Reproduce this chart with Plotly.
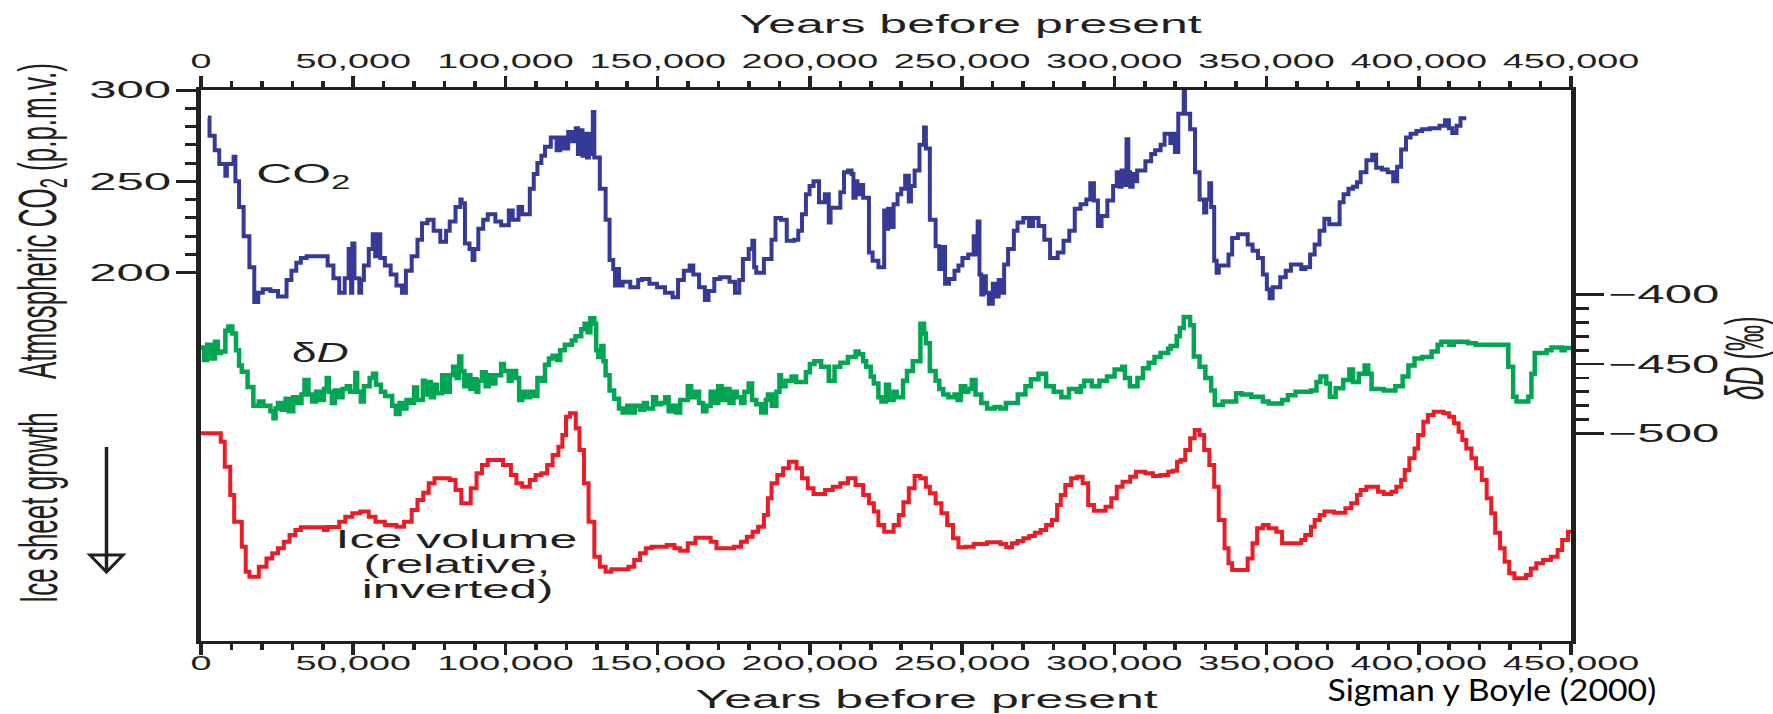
import json
import plotly.graph_objects as go

# ---------------- data (ages in thousands of years before present) ----------------
co2_age_kyr = [
    2.3, 2.8, 4.5, 6.0, 8.0, 8.5, 10.7, 11.3, 12.5, 14.0,
    15.9, 17.5, 18.8, 20.3, 22.8, 25.3, 28.1, 29.7, 31.3, 32.8,
    34.7, 41.6, 43.5, 45.4, 47.2, 48.5, 49.3, 49.7, 50.4, 52.0,
    52.6, 53.5, 55.1, 56.4, 57.2, 57.8, 58.9, 60.4, 62.3, 64.2,
    66.0, 67.3, 69.2, 71.1, 72.6, 74.4, 76.4, 78.6, 80.5, 81.7,
    83.6, 85.2, 85.6, 86.7, 88.2, 89.2, 89.8, 91.1, 92.7, 94.2,
    96.7, 98.6, 101.1, 102.4, 104.3, 105.5, 108.0, 109.3, 110.5, 111.8,
    113.0, 114.9, 116.8, 118.0, 119.3, 120.6, 121.8, 123.1, 123.8, 124.5,
    125.3, 126.0, 126.8, 127.4, 128.1, 128.7, 129.2, 131.0, 132.9, 134.2,
    135.4, 136.0, 136.6, 137.3, 138.5, 141.0, 143.6, 144.8, 147.3, 149.8,
    152.4, 154.9, 156.7, 158.6, 160.5, 161.7, 163.6, 165.5, 166.7, 168.6,
    170.5, 173.6, 175.4, 176.8, 178.0, 179.9, 181.1, 181.7, 182.4, 184.9,
    187.4, 188.7, 190.5, 192.4, 194.9, 196.2, 197.4, 198.7, 199.9, 201.2,
    203.0, 204.9, 206.2, 206.8, 210.0, 211.2, 212.5, 213.7, 214.3, 215.0,
    215.6, 216.5, 217.5, 219.4, 220.6, 222.5, 224.4, 224.9, 225.7, 226.3,
    227.5, 228.8, 230.0, 231.3, 232.5, 233.2, 234.4, 236.0, 237.5, 238.1,
    239.4, 241.3, 242.5, 243.3, 244.4, 245.7, 247.5, 248.8, 250.1, 252.0,
    253.8, 254.4, 255.1, 255.7, 256.3, 257.0, 257.8, 258.8, 260.1, 261.0,
    262.0, 263.0, 263.8, 265.1, 267.0, 268.2, 270.1, 272.0, 273.3, 275.1,
    277.0, 278.9, 281.4, 283.3, 285.2, 287.0, 288.9, 290.8, 292.1, 293.3,
    294.6, 295.8, 297.7, 299.6, 300.8, 301.6, 302.4, 303.2, 304.0, 304.6,
    305.2, 306.0, 306.5, 307.5, 310.2, 312.1, 313.4, 315.2, 316.5, 318.4,
    319.2, 319.9, 321.0, 322.8, 323.2, 324.9, 326.5, 328.0, 329.5, 330.2,
    331.2, 331.8, 332.8, 333.6, 334.3, 337.5, 338.7, 340.6, 343.8, 345.4,
    347.2, 348.8, 350.1, 351.0, 352.0, 354.5, 356.3, 358.0, 361.4, 362.7,
    364.3, 365.8, 367.4, 369.0, 370.6, 374.0, 375.3, 376.9, 378.4, 379.7,
    380.9, 382.8, 384.7, 386.0, 387.9, 389.8, 391.6, 392.9, 394.2, 395.8,
    397.3, 399.2, 401.1, 403.6, 406.8, 408.6, 409.9, 411.0, 412.4, 413.7,
    415.6,
]
co2_ppm = [
    285, 275, 267, 259.5, 253, 259.5, 263.5, 250, 236, 220,
    203, 184, 189, 191, 190, 187, 196, 201, 205.5, 208,
    209, 204, 197, 189, 197, 213, 189, 216, 197, 189,
    196, 204, 213, 221, 209, 221, 208, 204, 199, 193,
    189, 201, 209, 218, 227, 229, 223, 217, 223, 228,
    236, 240, 238, 216, 213, 207, 213, 224, 229, 232,
    228, 226, 234, 229, 236, 232, 246, 254, 260, 264,
    269, 274, 267, 274, 268, 277, 272, 279, 265, 278,
    264, 276, 263, 276, 265, 288, 263, 246, 229, 207,
    202, 193, 202, 193, 195, 192, 196, 196.5, 194, 192,
    189, 186.5, 196, 201, 204, 199, 192, 185, 190, 196.5,
    197.5, 195, 189, 196, 207.5, 213, 217.5, 203, 200, 207.5,
    218, 230, 229, 217.5, 218, 223, 232, 243, 247.5, 250,
    238.5, 243, 227.5, 235.5, 244, 255, 256, 254, 241, 250,
    243, 248, 241, 211, 206.5, 203, 234, 224, 235, 225,
    237.5, 243, 246, 253, 239, 247.5, 256, 270, 279.5, 268,
    229, 214.5, 202, 214, 194, 196.5, 201, 204, 208, 210,
    220, 210, 228, 199, 188, 198, 189, 183, 194, 187,
    196, 189, 204.5, 213, 223, 227.5, 230, 225.5, 230, 225.5,
    218, 208, 211, 217.5, 223, 235, 237.5, 240, 249, 239.5,
    225.5, 231, 239.5, 247.5, 255, 247, 256, 248, 273, 255,
    247, 254, 250, 256, 261, 265, 267, 270, 276, 271,
    276, 266, 287, 300, 287, 278.5, 255, 240, 233, 240,
    249, 236, 206.5, 200, 204, 210, 219, 221, 215.5, 212,
    208, 199, 191, 186, 192, 197.5, 201, 204.5, 202, 203,
    210, 215.5, 223, 229.5, 226.5, 238.5, 243, 246, 247, 249.5,
    255, 261.5, 264.5, 257.5, 256.5, 255, 250, 258, 267.5, 274,
    276, 277.5, 278.5, 279, 280.5, 283.5, 279, 276.5, 280.5, 284.5,
    284.5,
]

dd_age_kyr = [
    0.0, 1.0, 2.0, 3.5, 4.6, 5.5, 6.5, 8.0, 9.0, 10.3,
    11.5, 12.5, 13.4, 15.3, 17.2, 19.0, 20.5, 22.8, 23.8, 24.5,
    25.3, 26.5, 27.8, 28.8, 30.3, 31.5, 33.0, 34.0, 35.3, 36.5,
    37.8, 39.0, 40.4, 41.3, 42.0, 43.0, 44.0, 45.4, 46.5, 47.9,
    49.0, 50.7, 51.3, 52.5, 53.5, 55.4, 56.5, 57.5, 59.1, 60.5,
    62.8, 64.0, 65.2, 66.0, 67.5, 69.0, 70.0, 71.0, 72.9, 73.5,
    74.5, 75.5, 76.5, 77.5, 79.2, 80.2, 81.7, 82.8, 84.0, 84.8,
    85.5, 86.5, 87.5, 88.5, 89.5, 90.5, 91.1, 92.3, 93.5, 94.5,
    95.5, 96.7, 98.6, 99.5, 101.1, 102.0, 103.5, 104.5, 105.5, 106.5,
    108.0, 109.5, 110.5, 111.8, 113.0, 114.3, 115.5, 117.0, 118.0, 119.5,
    121.8, 123.0, 124.9, 126.0, 127.0, 127.9, 129.2, 129.8, 130.5, 131.5,
    132.2, 132.9, 134.2, 135.7, 137.3, 138.5, 140.0, 141.0, 142.5, 144.2,
    145.5, 146.5, 148.5, 149.5, 151.1, 152.5, 153.6, 155.0, 156.0, 157.4,
    159.9, 161.0, 162.4, 163.6, 164.9, 166.0, 167.4, 168.5, 169.9, 171.0,
    172.4, 173.6, 174.9, 176.0, 177.4, 178.5, 179.9, 181.0, 182.4, 184.0,
    185.5, 186.2, 187.5, 189.0, 190.0, 190.5, 192.0, 194.0, 195.5, 198.7,
    200.0, 201.5, 203.7, 206.2, 208.1, 210.0, 212.5, 215.0, 216.0, 217.5,
    218.5, 220.0, 221.0, 222.5, 223.5, 225.0, 226.0, 227.5, 228.5, 230.6,
    231.9, 233.8, 236.3, 237.5, 238.1, 239.4, 241.3, 242.5, 243.8, 245.5,
    247.5, 248.5, 249.6, 251.0, 252.0, 253.2, 254.4, 256.3, 258.2, 260.7,
    262.5, 264.4, 268.3, 270.8, 272.6, 275.1, 277.6, 280.1, 282.6, 285.1,
    287.6, 289.0, 290.1, 292.6, 295.1, 297.6, 300.1, 302.6, 303.5, 305.1,
    307.6, 309.4, 311.3, 313.2, 315.2, 317.7, 318.5, 320.5, 321.5, 322.8,
    324.9, 326.1, 328.0, 329.9, 331.8, 333.0, 335.6, 340.0, 341.9, 345.0,
    348.8, 350.7, 355.1, 357.0, 359.5, 364.6, 366.4, 367.7, 369.6, 370.8,
    372.7, 375.2, 377.2, 378.4, 380.3, 382.2, 383.4, 384.5, 388.5, 392.3,
    394.7, 396.6, 398.6, 401.1, 404.2, 406.2, 407.4, 410.0, 411.5, 416.2,
    418.7, 429.4, 431.0, 432.1, 436.0, 437.0, 438.1, 442.0, 443.6, 446.9,
    448.0, 450.0,
]
dd_permil = [
    -438, -447, -436, -446, -434, -442, -441, -426, -423, -428,
    -440, -451, -455.5, -466.5, -480, -477, -480, -484, -489, -482,
    -478, -483, -475, -484, -474, -478, -472, -461.5, -472, -477,
    -470, -476, -468, -460, -470, -478, -469, -474, -468, -466,
    -470, -456.5, -470, -477, -466, -460, -457, -465, -470, -473,
    -480, -486, -478, -482, -476, -478, -467, -476, -462, -472,
    -463, -474, -465, -471, -458, -470, -458, -452, -460, -444.5,
    -455, -466, -458, -468, -461, -470, -462, -456, -466, -458,
    -464, -458, -450, -455, -462, -455, -460, -476, -470, -474,
    -470, -473, -460, -462, -450.5, -446, -444, -447, -440, -436,
    -433, -430, -425, -421, -427, -417, -421, -440, -445, -437,
    -448, -458, -469, -475, -482, -485, -480, -485, -480, -483,
    -478, -482, -474, -479, -478, -474, -484, -480, -485, -476,
    -466, -474, -470, -478, -484, -480, -470, -478, -466, -476,
    -468, -478, -470, -474, -478, -470, -464, -476, -479, -485,
    -476, -472, -480, -470, -458, -466, -462, -459, -463, -456,
    -450, -448, -452, -462, -452, -449, -445, -441, -443, -448,
    -452, -459, -464, -474, -477, -465, -476, -470, -474, -462,
    -455, -448, -421, -428, -435, -455, -462, -468, -472, -474,
    -472, -476, -466, -470, -468, -461.5, -472, -478, -482, -481,
    -482, -478, -472, -466, -461, -457, -466, -470, -474, -468,
    -470, -466, -462, -466, -462, -459, -454, -452, -460, -466,
    -460, -453, -449, -445, -442, -439, -437, -430, -424, -416,
    -422, -444.5, -452, -460, -469, -479.5, -477, -471, -472, -473.5,
    -477, -478.5, -476, -472.5, -470, -469, -463, -459, -464, -473.5,
    -467.5, -461.5, -454, -463, -457, -451, -457, -468, -469, -466,
    -459, -451, -446, -445, -441, -436, -434, -436, -434, -435,
    -436, -452, -473.5, -477, -473.5, -457, -442, -440, -438, -440,
    -438.5, -438.5,
]

# relative ice volume (0 = least ice, larger = more ice); drawn inverted
ice_age_kyr = [
    0.0, 6.5, 7.8, 9.6, 10.9, 13.4, 14.7, 15.9, 19.0, 21.5,
    23.4, 25.3, 27.2, 29.1, 31.0, 32.8, 40.4, 41.6, 45.4, 47.4,
    49.7, 52.3, 55.1, 57.3, 60.4, 64.2, 66.7, 69.2, 71.1, 73.0,
    74.8, 76.7, 81.7, 83.6, 85.5, 88.6, 90.5, 92.3, 94.2, 99.2,
    101.8, 103.6, 105.5, 108.0, 109.9, 111.8, 113.7, 115.5, 117.4, 118.7,
    119.9, 121.2, 123.1, 124.3, 125.8, 127.3, 129.2, 131.0, 132.9, 134.8,
    140.4, 142.3, 144.2, 146.1, 148.0, 153.0, 155.5, 157.4, 159.9, 162.4,
    167.4, 169.3, 175.1, 177.4, 179.3, 181.2, 183.0, 184.9, 186.2, 187.4,
    189.3, 191.2, 193.1, 195.6, 197.4, 199.3, 201.2, 205.0, 207.5, 210.0,
    212.5, 215.0, 217.5, 219.4, 221.0, 222.5, 224.4, 227.5, 229.2, 230.7,
    232.5, 234.4, 236.3, 238.1, 239.4, 241.3, 243.2, 245.1, 247.0, 248.8,
    251.3, 253.8, 258.2, 262.6, 264.5, 266.4, 268.2, 270.1, 272.0, 273.9,
    275.8, 277.6, 279.5, 281.2, 282.4, 283.9, 285.8, 287.7, 289.6, 291.4,
    293.3, 297.1, 299.0, 300.8, 302.7, 305.2, 307.1, 310.2, 312.7, 315.2,
    317.7, 319.2, 320.6, 321.8, 323.3, 324.9, 326.4, 328.0, 329.5, 331.2,
    332.8, 334.3, 336.2, 337.5, 338.7, 343.8, 345.4, 346.9, 348.8, 350.7,
    353.2, 355.1, 361.4, 362.7, 364.6, 365.8, 367.5, 369.0, 372.1, 375.9,
    377.8, 379.7, 380.9, 382.8, 386.6, 388.5, 391.0, 392.6, 394.2, 395.4,
    396.9, 398.6, 399.8, 401.5, 403.0, 404.9, 408.1, 410.0, 411.6, 413.1,
    414.3, 415.6, 417.3, 418.8, 420.7, 422.3, 423.8, 425.1, 426.7, 428.2,
    429.7, 431.4, 435.2, 436.8, 438.6, 440.8, 443.4, 445.6, 447.1, 449.0,
    450.0,
]
ice_rel = [
    12.5, 17.5, 32.2, 48.8, 64.5, 79.2, 93.9, 96.9, 91.0, 86.1,
    83.1, 80.2, 76.3, 72.4, 69.4, 67.8, 69.4, 67.6, 64.5, 61.6,
    59.6, 58.6, 61.6, 64.5, 66.5, 67.5, 64.5, 57.6, 51.8, 47.5,
    41.9, 39.0, 40.0, 45.9, 53.7, 44.9, 36.1, 31.2, 28.2, 31.2,
    37.1, 41.9, 43.9, 40.0, 37.1, 36.1, 31.2, 25.3, 20.4, 13.5,
    2.8, 0.8, 9.6, 22.4, 41.9, 64.5, 85.1, 91.0, 93.9, 92.5,
    91.0, 87.1, 83.1, 80.2, 79.2, 78.2, 80.2, 81.6, 77.2, 73.9,
    76.3, 80.2, 79.2, 76.3, 73.4, 70.4, 67.5, 60.6, 50.8, 41.9,
    37.1, 33.1, 29.2, 33.1, 39.0, 44.9, 48.2, 45.9, 43.9, 41.9,
    39.0, 42.9, 48.8, 53.7, 58.6, 66.5, 70.4, 66.5, 60.6, 53.1,
    44.9, 37.6, 39.0, 43.9, 47.8, 53.7, 59.6, 66.5, 74.3, 79.6,
    79.2, 77.6, 76.6, 77.6, 79.6, 77.2, 75.9, 74.3, 72.9, 71.0,
    69.4, 66.5, 63.5, 54.7, 48.8, 42.9, 39.0, 38.1, 41.9, 54.7,
    58.1, 55.7, 50.8, 43.9, 41.0, 38.1, 35.1, 36.1, 37.6, 37.1,
    35.1, 34.5, 29.2, 28.2, 22.4, 15.5, 10.6, 13.5, 22.4, 31.2,
    43.9, 63.5, 80.2, 89.0, 92.9, 86.1, 77.2, 68.4, 66.5, 68.4,
    70.4, 77.2, 75.3, 72.4, 67.5, 63.5, 60.6, 58.6, 59.2, 56.6,
    53.7, 48.8, 45.9, 43.9, 46.9, 48.2, 46.9, 43.9, 40.0, 34.1,
    27.2, 21.4, 13.5, 5.7, 1.8, -0.2, 0.8, 2.8, 6.6, 11.6,
    16.5, 21.4, 27.2, 33.1, 40.0, 50.8, 59.6, 71.0, 80.2, 88.1,
    94.9, 97.8, 95.9, 92.0, 89.0, 87.1, 85.1, 81.2, 75.3, 70.4,
    70.4,
]

# axis ticks
year_ticks = [0, 50000, 100000, 150000, 200000, 250000, 300000, 350000, 400000, 450000]
year_labels = ["0", "50,000", "100,000", "150,000", "200,000", "250,000",
               "300,000", "350,000", "400,000", "450,000"]
co2_ticks = [200, 250, 300]
co2_labels = ["200", "250", "300"]
dd_ticks = [-500, -450, -400]
dd_labels = ["\u2212500", "\u2212450", "\u2212400"]

year_minor = [v for v in range(0, 450001, 10000) if v % 50000]
co2_minor = [v for v in range(200, 301, 10) if v % 50]
dd_minor = [v for v in range(-500, -399, 10) if v % 50]

# ---------------- layout geometry ----------------
W, H = 1773, 714
L, R, T, B = 201, 202, 90, 73
PW, PH = W - L - R, H - T - B

INK = "#231f20"
FONT = "Liberation Sans, Arial, Helvetica, sans-serif"
BLUE = "#353a96"
GREEN = "#00a651"
RED = "#ed1c24"


def fx(xp):
    return (xp - L) / PW


def fy(yp):
    return (H - B - yp) / PH


def years(ages):
    return [a * 1000 for a in ages]


fig = go.Figure()
fig.add_trace(go.Scatter(x=years(co2_age_kyr), y=co2_ppm, mode="lines",
                         line=dict(color=BLUE, width=4, shape="hv"),
                         xaxis="x", yaxis="y", showlegend=False, hoverinfo="skip"))
fig.add_trace(go.Scatter(x=years(dd_age_kyr), y=dd_permil, mode="lines",
                         line=dict(color=GREEN, width=4.5, shape="hv"),
                         xaxis="x", yaxis="y2", showlegend=False, hoverinfo="skip"))
fig.add_trace(go.Scatter(x=years(ice_age_kyr), y=ice_rel, mode="lines",
                         line=dict(color=RED, width=4, shape="hv"),
                         xaxis="x2", yaxis="y3", showlegend=False, hoverinfo="skip"))

xaxis_common = dict(
    range=[0, 450000], tickvals=year_ticks, ticktext=year_labels,
    ticks="outside", ticklen=11, tickwidth=3.5, tickcolor=INK,
    showline=True, linewidth=3, linecolor=INK,
    showgrid=False, zeroline=False, fixedrange=True,
    tickfont=dict(family=FONT, size=21, color=INK),
    minor=dict(tickmode="array", tickvals=year_minor, ticks="outside",
               ticklen=6, tickwidth=3.5, tickcolor=INK, showgrid=False),
)

fig.update_layout(
    width=W, height=H,
    margin=dict(l=L, r=R, t=T, b=B, pad=0),
    paper_bgcolor="white", plot_bgcolor="white",
    showlegend=False, hovermode=False,
    xaxis=dict(side="bottom", anchor="y", ticklabelstandoff=-10, **xaxis_common),
    xaxis2=dict(side="top", overlaying="x", anchor="y", **xaxis_common),
    yaxis=dict(
        range=[300 - PH / 1.827, 300], side="left", anchor="x",
        tickvals=co2_ticks, ticktext=co2_labels,
        ticks="outside", ticklen=20, tickwidth=3, tickcolor=INK,
        showline=True, linewidth=5, linecolor=INK,
        showgrid=False, zeroline=False, fixedrange=True,
        tickfont=dict(family=FONT, size=24, color=INK),
        minor=dict(tickmode="array", tickvals=co2_minor, ticks="outside",
                   ticklen=11, tickwidth=3, tickcolor=INK, showgrid=False),
    ),
    yaxis2=dict(
        range=[-649.7, -252.4], side="right", overlaying="y", anchor="x",
        tickvals=dd_ticks, ticktext=dd_labels,
        ticks="outside", ticklen=28, tickwidth=2.7, tickcolor=INK,
        showline=True, linewidth=4.5, linecolor=INK,
        showgrid=False, zeroline=False, fixedrange=True,
        tickfont=dict(family=FONT, size=25, color=INK),
        minor=dict(tickmode="array", tickvals=dd_minor, ticks="outside",
                   ticklen=13, tickwidth=2.7, tickcolor=INK, showgrid=False),
    ),
    yaxis3=dict(range=[134.7, -189.4], overlaying="y", anchor="x2",
                visible=False, fixedrange=True),
)

# text labels: (text, x px, y px, size, angle, horizontal stretch, vertical stretch)
labels = [
    ("Years before present", 970, 24, 25, 0, 2.0, 1.0),
    ("Years before present", 926, 699, 25, 0, 2.0, 1.0),
    ("CO<sub>2</sub>", 303, 175, 28, 0, 1.78, 1.0),
    ("\u03b4<i>D</i>", 320, 353, 27, 0, 1.65, 1.0),
    ("Ice volume", 456, 539, 25, 0, 2.0, 1.0),
    ("(relative,", 457, 564, 25, 0, 1.95, 1.0),
    ("inverted)", 457, 589, 25, 0, 1.97, 1.0),
    ("Atmospheric CO<sub>2</sub> (p.p.m.v.)", 48, 221, 26, -90, 1.0, 2.1),
    ("Ice sheet growth", 48, 508, 26, -90, 1.0, 2.1),
    ("<i>\u03b4D</i> (\u2030)", 1754, 358, 26, -90, 1.0, 2.1),
]
annotations = []
ann_stretch = []
for text, xp, yp, size, ang, sx, sy in labels:
    annotations.append(dict(
        text=text, x=fx(xp), y=fy(yp), xref="paper", yref="paper",
        xanchor="center", yanchor="middle", showarrow=False, textangle=ang,
        font=dict(family=FONT, size=size, color=INK),
    ))
    ann_stretch.append([sx, sy])

annotations.append(dict(
    text="Sigman y Boyle (2000)", x=fx(1492), y=fy(688.5), xref="paper", yref="paper",
    xanchor="center", yanchor="middle", showarrow=False,
    font=dict(family="Lato, Carlito, Noto Sans, sans-serif", size=31, color="#000000"),
))
ann_stretch.append([1.09, 1.0])
fig.update_layout(annotations=annotations)

# "ice sheet growth" arrow: open triangular head and stem
fig.add_shape(type="path", xref="paper", yref="paper",
              path=f"M {fx(90)} {fy(555)} L {fx(123)} {fy(555)} L {fx(106.5)} {fy(572)} Z",
              fillcolor="white", line=dict(color=INK, width=3))
fig.add_shape(type="line", xref="paper", yref="paper",
              x0=fx(106.5), y0=fy(447), x1=fx(106.5), y1=fy(570),
              line=dict(color=INK, width=3.5))

stretch = {"xtick": 1.8, "x2tick": 1.8, "ytick": 2.05, "y2tick": 1.97, "ann": ann_stretch}

post_js = """
(function(){
  var gd = document.getElementById('{plot_id}');
  var S = __S__;
  function widen(el, sx, sy) {
    if (!el) return;
    var x = parseFloat(el.getAttribute('x')) || 0;
    var y = parseFloat(el.getAttribute('y')) || 0;
    var t = el.getAttribute('transform') || '';
    el.setAttribute('transform', (t + ' translate(' + x + ',' + y + ') scale(' + sx + ',' + sy +
                    ') translate(' + (-x) + ',' + (-y) + ')').trim());
  }
  ['xtick', 'x2tick', 'ytick', 'y2tick'].forEach(function(c){
    gd.querySelectorAll('g.' + c + ' > text').forEach(function(el){ widen(el, S[c], 1); });
  });
  gd.querySelectorAll('g.annotation').forEach(function(g){
    var i = parseInt(g.getAttribute('data-index'), 10);
    var f = S.ann[i];
    if (f) widen(g.querySelector('text.annotation-text'), f[0], f[1]);
  });
})();
""".replace("__S__", json.dumps(stretch))

assert len(co2_age_kyr) == len(co2_ppm)
assert len(dd_age_kyr) == len(dd_permil)
assert len(ice_age_kyr) == len(ice_rel)

fig.write_html("out.html", post_script=post_js, config={"staticPlot": True})
